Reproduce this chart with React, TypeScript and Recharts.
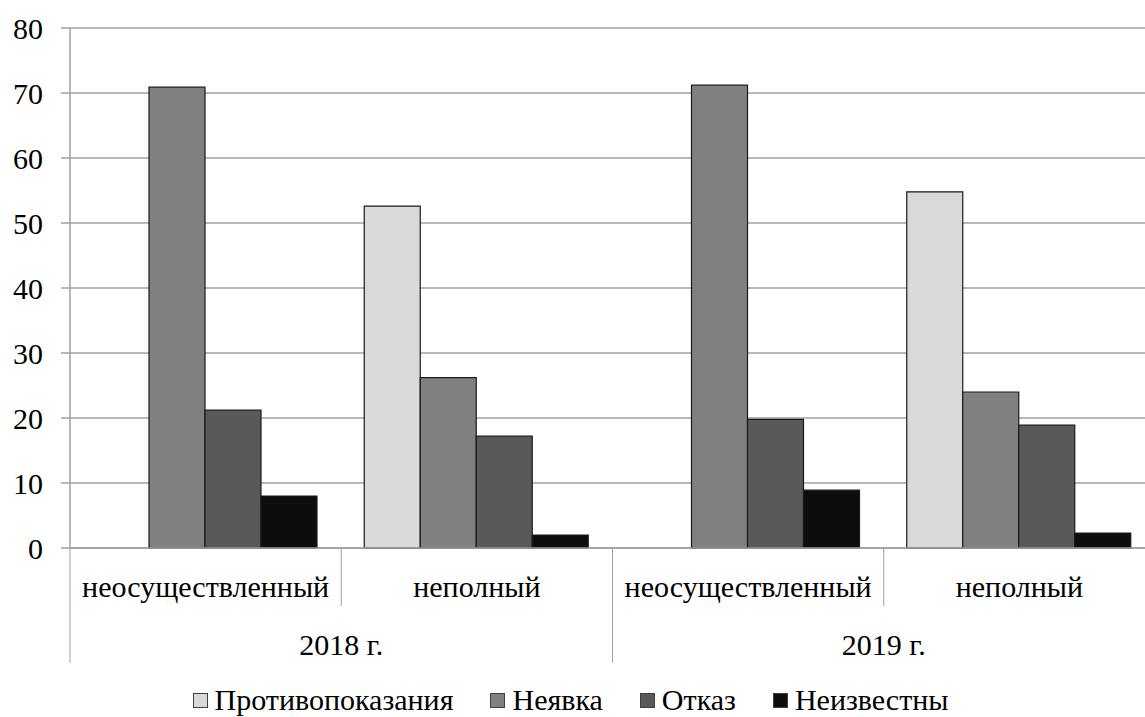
import { BarChart, Bar, XAxis, YAxis, CartesianGrid, Legend } from 'recharts';

const categories = ['неосуществленный', 'неполный', 'неосуществленный', 'неполный'];
const years = ['2018 г.', '2018 г.', '2019 г.', '2019 г.'];

const contraindications = [null, 52.6, null, 54.8];
const noShow = [70.9, 26.2, 71.2, 24.0];
const refusal = [21.2, 17.2, 19.8, 18.9];
const unknownReason = [8.0, 2.0, 8.9, 2.3];

const yTicks = [0, 10, 20, 30, 40, 50, 60, 70, 80];

const SERIES = [
  { key: 'contra', name: 'Противопоказания', color: '#d9d9d9' },
  { key: 'noShow', name: 'Неявка', color: '#808080' },
  { key: 'refusal', name: 'Отказ', color: '#595959' },
  { key: 'unknown', name: 'Неизвестны', color: '#0d0d0d' },
];

const data = categories.map((category, i) => ({
  category,
  year: years[i],
  contra: contraindications[i],
  noShow: noShow[i],
  refusal: refusal[i],
  unknown: unknownReason[i],
}));

const FONT = "'Times New Roman', Times, 'Liberation Serif', Tinos, 'Noto Serif', 'DejaVu Serif', FreeSerif, serif";
const GRID = '#a0a0a0';

const WIDTH = 1160;
const HEIGHT = 717;
const MARGIN = { top: 28, right: 5, left: 0, bottom: 0 };
const Y_AXIS_W = 70;
const CAT_H = 58;
const YEAR_H = 57;
const LEGEND_H = 54;

const PLOT_W = WIDTH - MARGIN.left - MARGIN.right - Y_AXIS_W;
const CAT_HALF = PLOT_W / categories.length / 2;
const YEAR_HALF = PLOT_W / new Set(years).size / 2;

function CategoryTick(props: any) {
  const { x, y, payload, index } = props;
  const i = index ?? payload?.index ?? 0;
  return (
    <g>
      <text x={x} y={y + 49} textAnchor="middle" style={{ fontSize: 30, fontFamily: FONT }} fill="#000">
        {categories[payload.value] ?? payload.value}
      </text>
      {i % 2 === 0 && (
        <line x1={x + CAT_HALF} y1={y} x2={x + CAT_HALF} y2={y + CAT_H} stroke={GRID} strokeWidth={1} />
      )}
    </g>
  );
}

function YearTick(props: any) {
  const { x, y, payload } = props;
  return (
    <g>
      <text x={x} y={y + 49} textAnchor="middle" style={{ fontSize: 30, fontFamily: FONT }} fill="#000">
        {payload.value}
      </text>
      <line x1={x - YEAR_HALF} y1={y - CAT_H} x2={x - YEAR_HALF} y2={y + YEAR_H} stroke={GRID} strokeWidth={1} />
      <line x1={x + YEAR_HALF} y1={y - CAT_H} x2={x + YEAR_HALF} y2={y + YEAR_H} stroke={GRID} strokeWidth={1} />
    </g>
  );
}

function LegendContent() {
  return (
    <div
      style={{
        height: LEGEND_H,
        boxSizing: 'border-box',
        paddingTop: 19,
        paddingRight: 14,
        display: 'flex',
        justifyContent: 'center',
        fontFamily: FONT,
        fontSize: 30,
        lineHeight: '30px',
        color: '#000',
      }}
    >
      {SERIES.map((s, i) => (
        <div key={s.key} style={{ display: 'flex', alignItems: 'center', marginLeft: i === 0 ? 0 : 37 }}>
          <span
            style={{
              display: 'inline-block',
              width: 13,
              height: 13,
              background: s.color,
              border: '1px solid #404040',
              marginRight: 7,
              marginTop: 2,
            }}
          />
          <span>{s.name}</span>
        </div>
      ))}
    </div>
  );
}

export default function App() {
  return (
    <div
      style={{
        position: 'fixed',
        left: 0,
        top: 0,
        width: 1145,
        height: 717,
        overflow: 'hidden',
        background: '#fff',
        fontFamily: FONT,
      }}
    >
      <BarChart width={WIDTH} height={HEIGHT} data={data} margin={MARGIN} barCategoryGap={23} barGap={0}>
        <CartesianGrid vertical={false} stroke={GRID} strokeWidth={1.5} />
        <XAxis
          xAxisId="cat"
          dataKey="category"
          height={CAT_H}
          tickSize={0}
          tickMargin={0}
          axisLine={{ stroke: GRID, strokeWidth: 1.5 }}
          tickLine={false}
          tick={<CategoryTick />}
          interval={0}
        />
        <XAxis
          xAxisId="year"
          dataKey="year"
          allowDuplicatedCategory={false}
          height={YEAR_H}
          tickSize={0}
          tickMargin={0}
          axisLine={false}
          tickLine={false}
          tick={<YearTick />}
          interval={0}
        />
        <YAxis
          width={Y_AXIS_W}
          domain={[0, 80]}
          ticks={yTicks}
          interval={0}
          tickSize={9}
          tickMargin={18}
          axisLine={{ stroke: GRID, strokeWidth: 1.5 }}
          tickLine={{ stroke: GRID, strokeWidth: 1.5 }}
          tick={{ fontSize: 30, fill: '#000', style: { fontFamily: FONT } }}
        />
        <Legend verticalAlign="bottom" content={<LegendContent />} />
        {SERIES.map((s) => (
          <Bar
            key={s.key}
            xAxisId="cat"
            dataKey={s.key}
            name={s.name}
            fill={s.color}
            stroke="#1a1a1a"
            strokeWidth={1.2}
            isAnimationActive={false}
          />
        ))}
      </BarChart>
    </div>
  );
}
